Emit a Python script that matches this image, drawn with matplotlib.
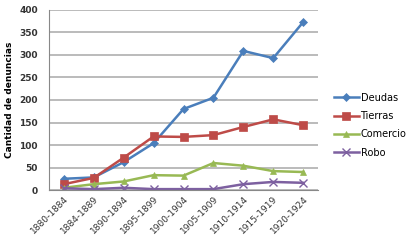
import numpy as np
import matplotlib.pyplot as plt

periodos = ['1880-1884', '1884-1889', '1890-1894', '1895-1899', '1900-1904',
            '1905-1909', '1910-1914', '1915-1919', '1920-1924']
deudas = [25, 28, 62, 104, 180, 205, 309, 293, 373]
tierras = [13, 27, 72, 119, 118, 122, 140, 157, 144]
comercio = [5, 13, 19, 33, 32, 60, 54, 42, 40]
robo = [4, 2, 5, 2, 2, 2, 13, 18, 16]

series = [deudas, tierras, comercio, robo]
nombres = ['Deudas', 'Tierras', 'Comercio', 'Robo']
colores = ['#4A7EBB', '#BE4B48', '#98B954', '#7D60A0']
marcas = ['D', 's', '^', 'x']
tams = [4, 6, 5, 6]

fig = plt.figure(figsize=(4.11, 2.43), dpi=100)
ax = fig.add_axes([0.119, 0.218, 0.655, 0.741])

x = np.arange(len(periodos))
for s, n, c, m, ms in zip(series, nombres, colores, marcas, tams):
    ax.plot(x, s, color=c, marker=m, markersize=ms, lw=1.8, label=n,
            markeredgewidth=1 if m == 'x' else 0.5)

ax.set_xlim(-0.5, len(periodos) - 0.5)
ax.set_ylim(0, 400)
ax.set_yticks(range(0, 401, 50))
ax.set_xticks(x)
ax.set_xticklabels(periodos, rotation=45, ha='right', rotation_mode='anchor',
                   fontsize=6.5, color='#333333')
ax.tick_params(axis='y', labelsize=6.5, labelcolor='#333333', length=0, pad=8)
ax.tick_params(axis='x', length=0, pad=3)
for lbl in ax.get_yticklabels():
    lbl.set_fontweight('bold')
ax.yaxis.grid(True, color='#BBBBBB', lw=1.4)
ax.set_axisbelow(True)
for sp in ['top', 'right']:
    ax.spines[sp].set_visible(False)
ax.spines['left'].set_color('#888888')
ax.spines['bottom'].set_color('#888888')
ax.set_ylabel('Cantidad de denuncias', fontsize=6.5, fontweight='bold', labelpad=4)

ax.legend(loc='center left', bbox_to_anchor=(1.06, 0.36), frameon=False,
          fontsize=7, handlelength=2.5, labelspacing=0.85, handletextpad=0.2,
          borderaxespad=0, borderpad=0)

fig.savefig('out.png', dpi=100)
